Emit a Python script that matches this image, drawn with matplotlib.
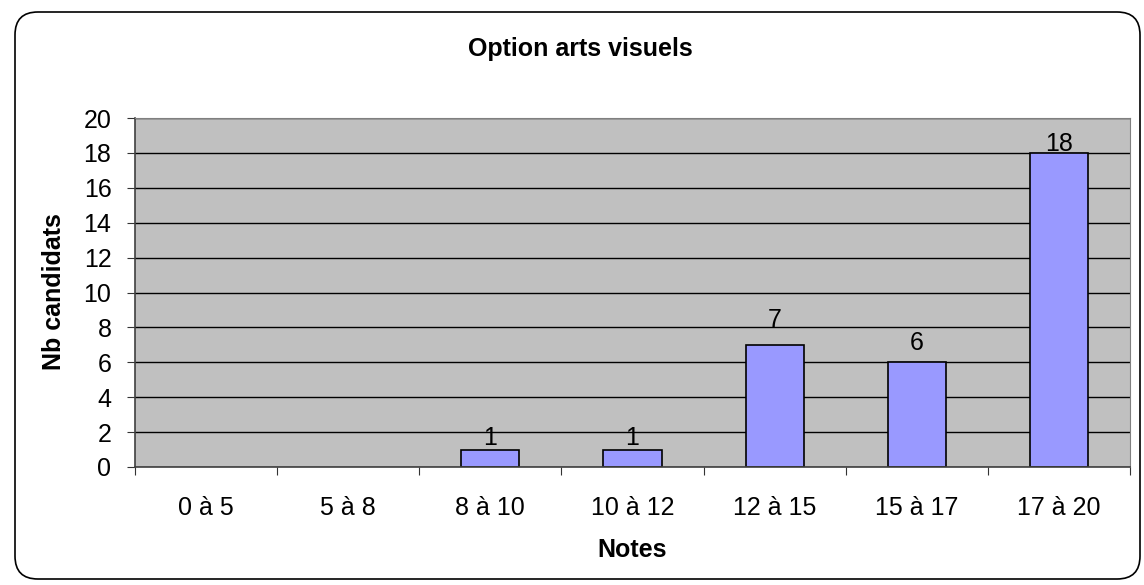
import numpy as np
import matplotlib
matplotlib.use("Agg")
from matplotlib import pyplot as plt
from matplotlib.patches import FancyBboxPatch

categories = ["0 à 5", "5 à 8", "8 à 10", "10 à 12", "12 à 15", "15 à 17", "17 à 20"]
counts = [0, 0, 1, 1, 7, 6, 18]
yticks = list(range(0, 21, 2))

# gap (px) between bar top and its value label, as placed in the original
label_gap_px = [0, 0, 5, 5, 18, 12, 2]

plt.rcParams['font.family'] = ['Liberation Sans', 'DejaVu Sans']

W, H = 1144, 585
fig = plt.figure(figsize=(W / 100, H / 100), dpi=100)

# rounded frame around the whole chart
frame = FancyBboxPatch((15 / W, 6 / H), 1125 / W, 567 / H,
                       boxstyle="round,pad=0,rounding_size=0.02",
                       transform=fig.transFigure, facecolor="white",
                       edgecolor="black", linewidth=1.2,
                       mutation_aspect=W / H, zorder=-10)
fig.patches.append(frame)

ax = fig.add_axes([135 / W, 1 - 467 / H, (1130 - 135) / W, (467 - 118) / H])
ax.set_facecolor("#C0C0C0")

x = np.arange(len(categories))
lw = [1.2 if v > 0 else 0 for v in counts]
ax.bar(x, counts, width=0.41, color="#9999FF", edgecolor="black", linewidth=lw, zorder=2)
for xi, v, g in zip(x, counts, label_gap_px):
    if v > 0:
        ax.annotate(str(v), (xi, v), xytext=(0, g * 0.72), textcoords="offset points",
                    ha="center", va="baseline", fontsize=18, zorder=4)

ax.set_xlim(-0.5, len(categories) - 0.5)
ax.set_ylim(0, 20)
ax.set_yticks(yticks)
ax.yaxis.grid(True, color="black", linewidth=1)
ax.set_axisbelow(True)

# ticks between categories
ax.set_xticks(np.arange(-0.5, len(categories), 1))
ax.set_xticklabels([])
ax.set_xticks(x, minor=True)
ax.set_xticklabels(categories, minor=True, fontsize=18)
ax.tick_params(axis="x", which="minor", length=0, pad=21)
ax.tick_params(axis="x", which="major", length=6, direction="out", color="#333333")
ax.tick_params(axis="y", length=6, labelsize=18, color="#333333", pad=11)

for s in ["top", "right"]:
    ax.spines[s].set_color("#808080")
for s in ["left", "bottom"]:
    ax.spines[s].set_color("#404040")
    ax.spines[s].set_linewidth(1.2)

fig.text(580 / W, 1 - 56 / H, "Option arts visuels", ha="center", va="baseline",
         fontsize=18, fontweight="bold")
fig.text(632 / W, 1 - 557 / H, "Notes", ha="center", va="baseline",
         fontsize=18, fontweight="bold")
fig.text(54 / W, 1 - 292 / H, "Nb candidats", ha="center", va="center",
         rotation=90, fontsize=18, fontweight="bold")

fig.savefig("out.png", dpi=100)
